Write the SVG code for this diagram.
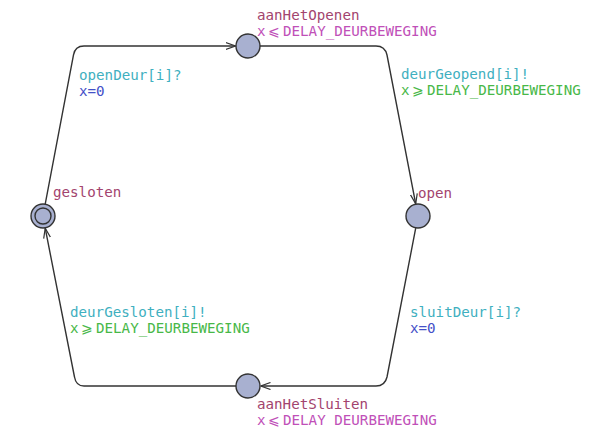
<svg xmlns="http://www.w3.org/2000/svg" width="602" height="428" viewBox="0 0 602 428">
<defs>
<marker id="arr" viewBox="0 0 10 8" refX="10" refY="4" markerWidth="10" markerHeight="8" markerUnits="userSpaceOnUse" orient="auto">
<path d="M0,0.5 L10,4 L0,7.5" fill="none" stroke="#333" stroke-width="1.2"/>
</marker>
<style>
text{font-family:"DejaVu Sans Mono","Liberation Mono",monospace;font-size:14.2px}
.loc{fill:#a8b0d0;stroke:#333;stroke-width:1.4}
.name{fill:#a3446e}
.inv{fill:#c050b8}
.sync{fill:#3fb0c0}
.asg{fill:#4450c8}
.grd{fill:#48b848}
.edge{fill:none;stroke:#333;stroke-width:1.4;marker-end:url(#arr)}
</style>
</defs>
<rect width="602" height="428" fill="#fff"/>
<g id="connectors">
<path class="edge" d="M45.2,204.2 L73.5,55 Q75,46 84,46 L235.5,46"/>
<path class="edge" d="M260,46 L376,46 Q385,46 387,55 L415.7,203.8"/>
<path class="edge" d="M415.7,228.2 L387,377 Q385,386 376,386 L260.5,386"/>
<path class="edge" d="M236,386 L84,386 Q76,386 74.5,377 L45.2,228.2"/>
</g>
<g id="edge-labels">
<text class="sync" x="79" y="80">openDeur[i]?</text>
<text class="asg" x="79" y="96">x=0</text>
<text class="sync" x="401" y="79">deurGeopend[i]!</text>
<text class="grd" y="95"><tspan x="401">x</tspan><tspan x="412">⩾</tspan><tspan x="427">DELAY_DEURBEWEGING</tspan></text>
<text class="sync" x="410" y="317">sluitDeur[i]?</text>
<text class="asg" x="410" y="333">x=0</text>
<text class="sync" x="70" y="317">deurGesloten[i]!</text>
<text class="grd" y="333"><tspan x="70">x</tspan><tspan x="81">⩾</tspan><tspan x="96">DELAY_DEURBEWEGING</tspan></text>
</g>
<g id="gesloten">
<circle class="loc" cx="43" cy="216" r="12"/>
<circle class="loc" cx="43" cy="216" r="8"/>
<text class="name" x="53" y="197">gesloten</text>
</g>
<g id="aanHetOpenen">
<circle class="loc" cx="248" cy="46" r="12"/>
<text class="name" x="257" y="20">aanHetOpenen</text>
<text class="inv" y="36"><tspan x="257">x</tspan><tspan x="268">⩽</tspan><tspan x="283">DELAY_DEURBEWEGING</tspan></text>
</g>
<g id="open">
<circle class="loc" cx="418" cy="216" r="12"/>
<text class="name" x="418" y="198">open</text>
</g>
<g id="aanHetSluiten">
<circle class="loc" cx="248" cy="386" r="12"/>
<text class="name" x="257" y="409">aanHetSluiten</text>
<text class="inv" y="425"><tspan x="257">x</tspan><tspan x="268">⩽</tspan><tspan x="283">DELAY_DEURBEWEGING</tspan></text>
</g>
</svg>
